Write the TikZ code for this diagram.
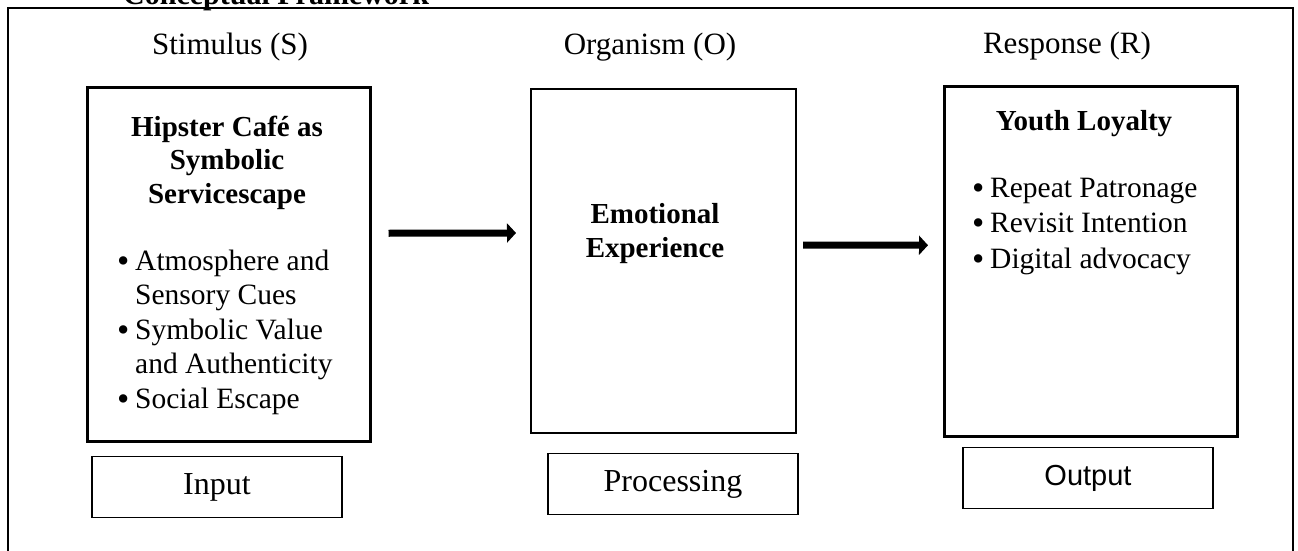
\documentclass[tikz,border=0pt]{standalone}
\usepackage{fontspec}
\setmainfont{Liberation Serif}
\newfontfamily\arialfont{Liberation Sans}
\usetikzlibrary{positioning,arrows.meta}

\tikzset{
  mainbox/.style={shape=rectangle, draw, line width=2.5pt, anchor=north west, inner sep=0pt},
  tagbox/.style={shape=rectangle, draw, line width=1.5pt, minimum width=250pt, minimum height=61pt, inner sep=0pt},
  stage/.style={anchor=base, font=\fontsize{31}{36}\selectfont},
  boxhead/.style={anchor=base, align=center, font=\bfseries\fontsize{29}{33.5}\selectfont},
  bullets/.style={anchor=base west, align=left, inner sep=0pt, font=\fontsize{29.5}{34.5}\selectfont},
  flow/.style={line width=7pt, -{Triangle[length=9pt, width=19pt]}},
}
\newcommand{\bul}{\makebox[18pt][l]{{\fontsize{35}{35}\selectfont\raisebox{-2pt}{•}}}}
\newcommand{\nobul}{\hspace*{18pt}}

\begin{document}
\begin{tikzpicture}[x=1pt, y=-1pt]
\useasboundingbox (0,0) rectangle (1298,551);

% frame and title
\draw [line width=2.2pt] (8,570) -- (8,8) -- (1293,8) -- (1293,570);
\node [anchor=base west, inner sep=0pt, font=\bfseries\fontsize{30}{34}\selectfont] (title) at (123,5) {Conceptual Framework};

% S-O-R boxes
\node [mainbox, minimum width=283pt, minimum height=354pt] (S) at (86,86) {};
\node [mainbox, line width=2pt, minimum width=265pt, minimum height=344pt] (O) at (530,88) {};
\node [mainbox, minimum width=293pt, minimum height=350pt] (R) at (943,85) {};

\node [stage] (Slab) at (230,55) {Stimulus (S)};
\node [stage] (Olab) at (650,55) {Organism (O)};
\node [stage] (Rlab) at (1067,53) {Response (R)};

% box contents (base = last line)
\node [boxhead] (Shead) at (227,203) {Hipster Café as\\Symbolic\\Servicescape};
\node [bullets] (Slist) at (117,408) {\bul Atmosphere and\\\nobul Sensory Cues\\\bul Symbolic Value\\\nobul and Authenticity\\\bul Social Escape};
\node [boxhead] (Ohead) at (655,257) {Emotional\\Experience};
\node [boxhead] (Rhead) at (1084,130) {Youth Loyalty};
\node [bullets, font=\fontsize{29.5}{35.5}\selectfont] (Rlist) at (972,268) {\bul Repeat Patronage\\\bul Revisit Intention\\\bul Digital advocacy};

% arrows
\draw [flow] ([xshift=17pt, yshift=31pt]S.east) -- ([xshift=-14pt, yshift=28pt]O.west);
\draw [flow] ([xshift=6pt, yshift=16pt]O.east) -- ([xshift=-15pt, yshift=16pt]R.west);

% input / processing / output
\node [tagbox, font=\fontsize{32}{36}\selectfont] (In) at (217,487) {Input};
\node [tagbox, font=\fontsize{32}{36}\selectfont] (Proc) at (673,484) {Processing};
\node [tagbox, font=\arialfont\fontsize{29}{34}\selectfont] (Out) at (1088,478) {Output};
\end{tikzpicture}
\end{document}
